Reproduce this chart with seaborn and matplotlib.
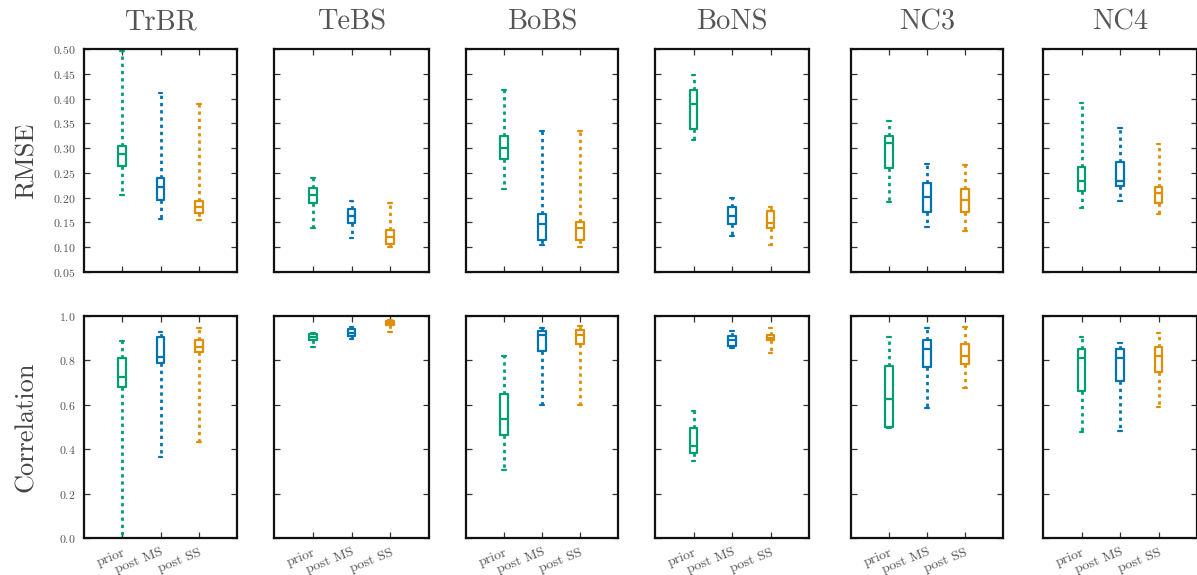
import numpy as np
import pandas as pd
import matplotlib
matplotlib.use("Agg")
import matplotlib.pyplot as plt
import seaborn as sns

# Box summaries: [min, q1, median, q3, max]
datasets = ["TrBR", "TeBS", "BoBS", "BoNS", "NC3", "NC4"]
methods = ["prior", "post MS", "post SS"]

rmse_prior = [
    [0.206, 0.263, 0.289, 0.305, 0.495],
    [0.139, 0.190, 0.205, 0.220, 0.240],
    [0.217, 0.278, 0.301, 0.325, 0.417],
    [0.317, 0.338, 0.390, 0.418, 0.447],
    [0.191, 0.259, 0.311, 0.324, 0.354],
    [0.179, 0.214, 0.233, 0.261, 0.391],
]
rmse_post_ms = [
    [0.156, 0.195, 0.221, 0.239, 0.412],
    [0.119, 0.148, 0.164, 0.177, 0.193],
    [0.105, 0.114, 0.146, 0.168, 0.335],
    [0.123, 0.147, 0.162, 0.181, 0.199],
    [0.140, 0.171, 0.202, 0.230, 0.268],
    [0.193, 0.223, 0.233, 0.271, 0.341],
]
rmse_post_ss = [
    [0.154, 0.170, 0.181, 0.194, 0.390],
    [0.100, 0.106, 0.121, 0.134, 0.190],
    [0.100, 0.114, 0.139, 0.150, 0.335],
    [0.105, 0.139, 0.149, 0.174, 0.181],
    [0.133, 0.171, 0.196, 0.218, 0.266],
    [0.168, 0.190, 0.209, 0.221, 0.309],
]
corr_prior = [
    [0.000, 0.679, 0.727, 0.810, 0.888],
    [0.860, 0.890, 0.905, 0.920, 0.925],
    [0.308, 0.462, 0.537, 0.647, 0.820],
    [0.348, 0.385, 0.415, 0.494, 0.570],
    [0.495, 0.500, 0.625, 0.775, 0.905],
    [0.478, 0.663, 0.813, 0.853, 0.905],
]
corr_post_ms = [
    [0.366, 0.787, 0.816, 0.906, 0.930],
    [0.898, 0.910, 0.925, 0.940, 0.952],
    [0.597, 0.842, 0.913, 0.932, 0.947],
    [0.858, 0.866, 0.890, 0.912, 0.933],
    [0.584, 0.772, 0.850, 0.892, 0.947],
    [0.483, 0.708, 0.810, 0.853, 0.880],
]
corr_post_ss = [
    [0.433, 0.836, 0.861, 0.891, 0.945],
    [0.930, 0.961, 0.970, 0.976, 0.982],
    [0.597, 0.872, 0.913, 0.937, 0.955],
    [0.833, 0.890, 0.903, 0.915, 0.945],
    [0.674, 0.782, 0.820, 0.872, 0.950],
    [0.592, 0.749, 0.820, 0.862, 0.922],
]

colors = ["#029E73", "#0173B2", "#DE8F05"]


def to_long(metric, series):
    rows = []
    for m, vals in zip(methods, series):
        for d, summary in zip(datasets, vals):
            for v in summary:
                rows.append({"metric": metric, "dataset": d, "method": m, "value": v})
    return rows


df = pd.DataFrame(
    to_long("RMSE", [rmse_prior, rmse_post_ms, rmse_post_ss])
    + to_long("Correlation", [corr_prior, corr_post_ms, corr_post_ss])
)

sns.set_style("ticks", {"xtick.direction": "in", "ytick.direction": "in"})
plt.rcParams["font.family"] = ["cmr10", "DejaVu Serif"]
plt.rcParams["axes.formatter.use_mathtext"] = True

fig = plt.figure(figsize=(11.97, 5.75), dpi=100)
W, H = 1197.0, 575.0

# panel edges in pixels
col_x = [(84, 237), (274, 429), (466, 618), (655, 809), (851, 1003), (1043, 1197)]
row_y = [(49, 272), (316, 538)]
row_metric = ["RMSE", "Correlation"]
row_lim = [(0.05, 0.50), (0.0, 1.0)]
row_ticks = [np.arange(0.05, 0.501, 0.05), np.arange(0.0, 1.01, 0.2)]

for r, metric in enumerate(row_metric):
    y0, y1 = row_y[r]
    for c, name in enumerate(datasets):
        x0, x1 = col_x[c]
        ax = fig.add_axes([x0 / W, 1 - y1 / H, (x1 - x0) / W, (y1 - y0) / H])
        sub = df[(df["metric"] == metric) & (df["dataset"] == name)]
        sns.boxplot(
            data=sub, x="method", y="value", hue="method", order=methods,
            hue_order=methods, palette=colors, fill=False, width=0.2,
            whis=(0, 100), showfliers=False, linewidth=1.6, legend=False,
            whiskerprops={"linestyle": (0, (1.2, 1.4)), "linewidth": 2.0},
            ax=ax,
        )
        ax.set_xlim(-1, 3)
        ax.set_ylim(*row_lim[r])
        ax.set_yticks(row_ticks[r])
        ax.tick_params(axis="both", which="both", direction="in", length=4.5,
                       width=0.9, color="#333333", top=True, right=True,
                       labelcolor="#555555")
        for sp in ax.spines.values():
            sp.set_linewidth(1.6)
            sp.set_color("#111111")
        ax.set_xlabel("")
        ax.set_ylabel("")
        if c == 0:
            ax.tick_params(axis="y", labelsize=8.5, pad=6)
            ax.set_ylabel(metric, fontsize=19, color="#444444")
            ax.yaxis.set_label_coords(-0.30, 0.5)
        else:
            ax.set_yticklabels([])
        if r == 0:
            ax.set_title(name, fontsize=20.5, color="#555555", pad=14)
            ax.set_xticklabels([])
        else:
            ax.set_xticks(range(len(methods)))
            ax.set_xticklabels(methods, rotation=22, ha="right",
                               rotation_mode="anchor", fontsize=10)
            ax.tick_params(axis="x", pad=6)

fig.savefig("out.png", dpi=100)
